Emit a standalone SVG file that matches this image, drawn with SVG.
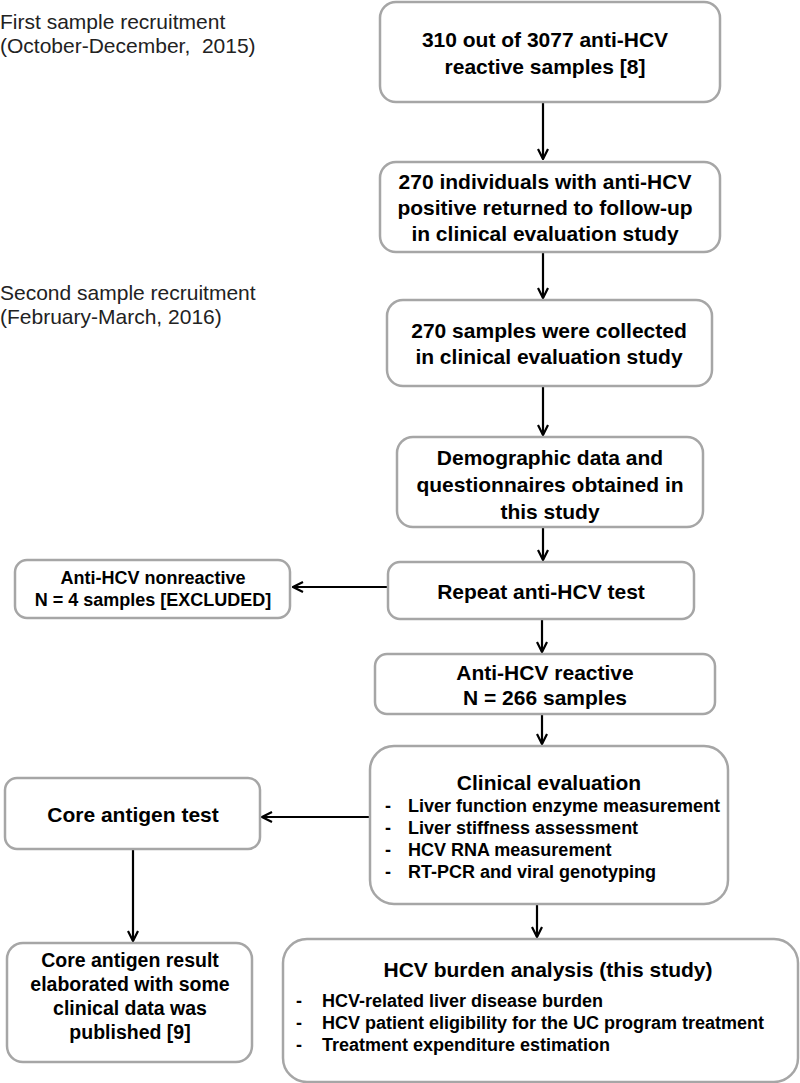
<svg xmlns="http://www.w3.org/2000/svg" width="800" height="1083" viewBox="0 0 800 1083">
<defs>
<style>
.box{fill:#fff;stroke:#a6a6a6;stroke-width:2.5}
.t{font-family:"Liberation Sans",Arial,sans-serif;font-weight:bold;font-size:21px;fill:#000;text-anchor:middle}
.s{font-family:"Liberation Sans",Arial,sans-serif;font-weight:bold;font-size:18px;fill:#000}
.lbl{font-family:"Liberation Sans",Arial,sans-serif;font-size:21px;fill:#222}
.c{stroke:#000;stroke-width:2.2;fill:none}
</style>
<marker id="ah" viewBox="0 0 12 12" refX="11" refY="6" markerWidth="12" markerHeight="12" markerUnits="userSpaceOnUse" orient="auto">
<path d="M1,1 L11,6 L1,11" fill="none" stroke="#000" stroke-width="2.2"/>
</marker>
</defs>
<rect width="800" height="1083" fill="#fff"/>
<g id="labels">
<text class="lbl" x="0" y="29">First sample recruitment</text>
<text class="lbl" x="0" y="53" xml:space="preserve">(October-December,  2015)</text>
<text class="lbl" x="0" y="300">Second sample recruitment</text>
<text class="lbl" x="0" y="324">(February-March, 2016)</text>
</g>
<g id="connectors">
<line class="c" x1="543" y1="102" x2="543" y2="159" marker-end="url(#ah)"/>
<line class="c" x1="543" y1="252" x2="543" y2="298" marker-end="url(#ah)"/>
<line class="c" x1="543" y1="386" x2="543" y2="435" marker-end="url(#ah)"/>
<line class="c" x1="543" y1="527" x2="543" y2="560" marker-end="url(#ah)"/>
<line class="c" x1="388" y1="587" x2="293" y2="587" marker-end="url(#ah)"/>
<line class="c" x1="542" y1="619" x2="542" y2="652" marker-end="url(#ah)"/>
<line class="c" x1="542" y1="714" x2="542" y2="744" marker-end="url(#ah)"/>
<line class="c" x1="370" y1="817" x2="262" y2="817" marker-end="url(#ah)"/>
<line class="c" x1="133" y1="849" x2="133" y2="941" marker-end="url(#ah)"/>
<line class="c" x1="537" y1="904" x2="537" y2="937" marker-end="url(#ah)"/>
</g>
<g id="n1"><rect class="box" x="380" y="2" width="340" height="100" rx="16"/>
<text class="t" x="545" y="47">310 out of 3077 anti-HCV</text>
<text class="t" x="545" y="74">reactive samples [8]</text></g>
<g id="n2"><rect class="box" x="380" y="162" width="340" height="90" rx="16"/>
<text class="t" x="545" y="189">270 individuals with anti-HCV</text>
<text class="t" x="545" y="215">positive returned to follow-up</text>
<text class="t" x="545" y="241">in clinical evaluation study</text></g>
<g id="n3"><rect class="box" x="387" y="300" width="325" height="86" rx="16"/>
<text class="t" x="549" y="338">270 samples were collected</text>
<text class="t" x="549" y="364">in clinical evaluation study</text></g>
<g id="n4"><rect class="box" x="397" y="437" width="306" height="90" rx="16"/>
<text class="t" x="550" y="465">Demographic data and</text>
<text class="t" x="550" y="492">questionnaires obtained in</text>
<text class="t" x="550" y="519">this study</text></g>
<g id="n5"><rect class="box" x="388" y="562" width="306" height="57" rx="12"/>
<text class="t" x="541" y="599">Repeat anti-HCV test</text></g>
<g id="n6"><rect class="box" x="15" y="560" width="275" height="58" rx="12"/>
<text class="t" x="153" y="584" style="font-size:18px">Anti-HCV nonreactive</text>
<text class="t" x="153" y="606" style="font-size:18px">N = 4 samples [EXCLUDED]</text></g>
<g id="n7"><rect class="box" x="375" y="654" width="340" height="60" rx="12"/>
<text class="t" x="545" y="680">Anti-HCV reactive</text>
<text class="t" x="545" y="705">N = 266 samples</text></g>
<g id="n8"><rect class="box" x="370" y="746" width="358" height="158" rx="24"/>
<text class="t" x="549" y="790">Clinical evaluation</text>
<text class="s" x="385" y="812">-</text><text class="s" x="408" y="812">Liver function enzyme measurement</text>
<text class="s" x="385" y="834">-</text><text class="s" x="408" y="834">Liver stiffness assessment</text>
<text class="s" x="385" y="856">-</text><text class="s" x="408" y="856">HCV RNA measurement</text>
<text class="s" x="385" y="878">-</text><text class="s" x="408" y="878">RT-PCR and viral genotyping</text></g>
<g id="n9"><rect class="box" x="5" y="778" width="255" height="71" rx="12"/>
<text class="t" x="133" y="822">Core antigen test</text></g>
<g id="n10"><rect class="box" x="7" y="943" width="245" height="119" rx="16"/>
<text class="t" x="130" y="967" style="font-size:19.5px">Core antigen result</text>
<text class="t" x="130" y="991" style="font-size:19.5px">elaborated with some</text>
<text class="t" x="130" y="1015" style="font-size:19.5px">clinical data was</text>
<text class="t" x="130" y="1039" style="font-size:19.5px">published [9]</text></g>
<g id="n11"><rect class="box" x="283" y="939" width="515" height="143" rx="24"/>
<text class="t" x="548" y="977">HCV burden analysis (this study)</text>
<text class="s" x="296" y="1007">-</text><text class="s" x="322" y="1007">HCV-related liver disease burden</text>
<text class="s" x="296" y="1029">-</text><text class="s" x="322" y="1029">HCV patient eligibility for the UC program treatment</text>
<text class="s" x="296" y="1051">-</text><text class="s" x="322" y="1051">Treatment expenditure estimation</text></g>
</svg>
